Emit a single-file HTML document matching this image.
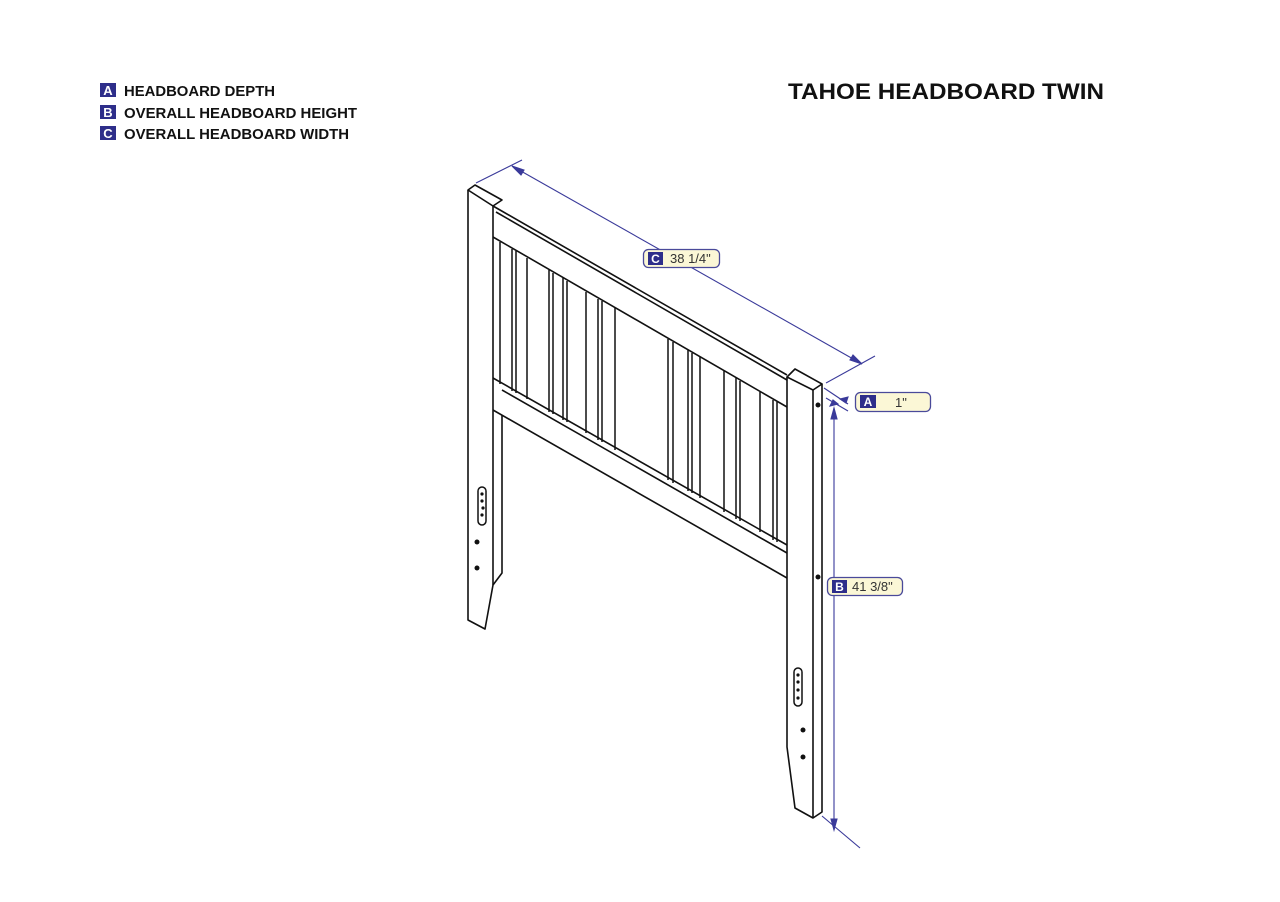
<!DOCTYPE html>
<html><head><meta charset="utf-8"><style>
html,body{margin:0;padding:0;background:#fff;}
svg{display:block;}
</style></head><body>
<svg width="1280" height="902" viewBox="0 0 1280 902" xmlns="http://www.w3.org/2000/svg" font-family="Liberation Sans, Arial, sans-serif">
<rect width="1280" height="902" fill="#fff"/>
<!-- legend -->
<g font-weight="bold" font-size="14.5">
<rect x="100" y="83" width="16" height="14" fill="#2e2e8a"/><text x="108" y="95" fill="#fff" text-anchor="middle" font-size="13">A</text>
<text x="124" y="96" fill="#111" textLength="151" lengthAdjust="spacingAndGlyphs">HEADBOARD DEPTH</text>
<rect x="100" y="105" width="16" height="14" fill="#2e2e8a"/><text x="108" y="117" fill="#fff" text-anchor="middle" font-size="13">B</text>
<text x="124" y="118" fill="#111" textLength="233" lengthAdjust="spacingAndGlyphs">OVERALL HEADBOARD HEIGHT</text>
<rect x="100" y="126" width="16" height="14" fill="#2e2e8a"/><text x="108" y="138" fill="#fff" text-anchor="middle" font-size="13">C</text>
<text x="124" y="139" fill="#111" textLength="225" lengthAdjust="spacingAndGlyphs">OVERALL HEADBOARD WIDTH</text>
</g>
<text x="788" y="99" font-weight="bold" font-size="22.5" fill="#111" textLength="316" lengthAdjust="spacingAndGlyphs">TAHOE HEADBOARD TWIN</text>

<g stroke="#111" stroke-width="1.6" fill="none" stroke-linejoin="round">
<!-- left post -->
<polygon points="468,190 475,185 502,200 493,206" fill="#fff"/>
<polyline points="468,190 468,620 485,629 493,585 502,573 502,415"/>
<line x1="493" y1="206" x2="493" y2="585"/>
<!-- top rail -->
<polyline points="493,206 500,210 787,375"/>
<line x1="496" y1="212" x2="787" y2="380"/>
<line x1="493" y1="237" x2="787" y2="407"/>
<!-- lower rail -->
<line x1="493" y1="378" x2="787" y2="545"/>
<line x1="502" y1="390" x2="787" y2="553"/>
<line x1="493" y1="410" x2="787" y2="578"/>
<!-- right post -->
<polygon points="787,377 795,369 822,384 813,390" fill="#fff"/>
<polyline points="787,377 787,747 795,808 813,818 822,812 822,384"/>
<line x1="813" y1="390" x2="813" y2="818"/>
</g>
<!-- slats -->
<g stroke="#111" stroke-width="1.5">
<line x1="500" y1="242" x2="500" y2="384"/>
<line x1="512" y1="249" x2="512" y2="391"/>
<line x1="516" y1="251" x2="516" y2="393"/>
<line x1="527" y1="258" x2="527" y2="399"/>
<line x1="549" y1="270" x2="549" y2="412"/>
<line x1="553" y1="273" x2="553" y2="414"/>
<line x1="563" y1="278" x2="563" y2="420"/>
<line x1="567" y1="281" x2="567" y2="422"/>
<line x1="586" y1="292" x2="586" y2="433"/>
<line x1="598" y1="299" x2="598" y2="440"/>
<line x1="602" y1="301" x2="602" y2="442"/>
<line x1="615" y1="308" x2="615" y2="450"/>
<line x1="668" y1="339" x2="668" y2="480"/>
<line x1="673" y1="342" x2="673" y2="483"/>
<line x1="688" y1="350" x2="688" y2="491"/>
<line x1="692" y1="353" x2="692" y2="493"/>
<line x1="700" y1="357" x2="700" y2="498"/>
<line x1="724" y1="371" x2="724" y2="512"/>
<line x1="736" y1="378" x2="736" y2="519"/>
<line x1="740" y1="381" x2="740" y2="521"/>
<line x1="760" y1="392" x2="760" y2="532"/>
<line x1="773" y1="400" x2="773" y2="540"/>
<line x1="777" y1="402" x2="777" y2="542"/>
</g>
<!-- holes -->
<g fill="#111">
<rect x="478" y="487" width="8" height="38" rx="4" fill="#fff" stroke="#111" stroke-width="1.5"/>
<circle cx="482" cy="494" r="1.6"/><circle cx="482" cy="501" r="1.6"/><circle cx="483" cy="508" r="1.6"/><circle cx="482" cy="515" r="1.6"/>
<circle cx="477" cy="542" r="2.5"/><circle cx="477" cy="568" r="2.5"/>
<rect x="794" y="668" width="8" height="38" rx="4" fill="#fff" stroke="#111" stroke-width="1.5"/>
<circle cx="798" cy="675" r="1.6"/><circle cx="798" cy="682" r="1.6"/><circle cx="798" cy="690" r="1.6"/><circle cx="798" cy="698" r="1.6"/>
<circle cx="803" cy="730" r="2.5"/><circle cx="803" cy="757" r="2.5"/>
<circle cx="818" cy="405" r="2.5"/><circle cx="818" cy="577" r="2.5"/>
</g>
<!-- dimension lines -->
<g stroke="#3a3a9a" stroke-width="1.1" fill="#3a3a9a">
<line x1="476" y1="183" x2="522" y2="160"/>
<line x1="826" y1="383" x2="875" y2="356"/>
<line x1="512" y1="166" x2="862" y2="364"/>
<polygon points="512,166 524,170 521,175"/>
<polygon points="862,364 850,360 853,355"/>
<line x1="824" y1="388" x2="848" y2="404"/>
<line x1="826" y1="398" x2="848" y2="411"/>
<polygon points="840,399 848,397 846,403"/>
<polygon points="838,404 830,406 833,400"/>
<line x1="834" y1="408" x2="834" y2="830"/>
<polygon points="834,408 831,419 837,419"/>
<polygon points="834,830 831,819 837,819"/>
<line x1="822" y1="816" x2="860" y2="848"/>
</g>
<!-- labels -->
<g font-size="13" fill="#333">
<rect x="643.5" y="249.5" width="76" height="18" rx="5" fill="#fbf7d6" stroke="#4a4a9a" stroke-width="1.3"/>
<rect x="648" y="252" width="15" height="13" fill="#2e2e8a"/><text x="655.5" y="263" fill="#fff" font-weight="bold" text-anchor="middle" font-size="12">C</text>
<text x="670" y="263">38 1/4"</text>
<rect x="855.5" y="392.5" width="75" height="19" rx="5" fill="#fbf7d6" stroke="#4a4a9a" stroke-width="1.3"/>
<rect x="860" y="395" width="16" height="13" fill="#2e2e8a"/><text x="868" y="406" fill="#fff" font-weight="bold" text-anchor="middle" font-size="12">A</text>
<text x="895" y="407">1"</text>
<rect x="827.5" y="577.5" width="75" height="18" rx="5" fill="#fbf7d6" stroke="#4a4a9a" stroke-width="1.3"/>
<rect x="832" y="580" width="15" height="13" fill="#2e2e8a"/><text x="839.5" y="591" fill="#fff" font-weight="bold" text-anchor="middle" font-size="12">B</text>
<text x="852" y="591">41 3/8"</text>
</g>
</svg>
</body></html>
